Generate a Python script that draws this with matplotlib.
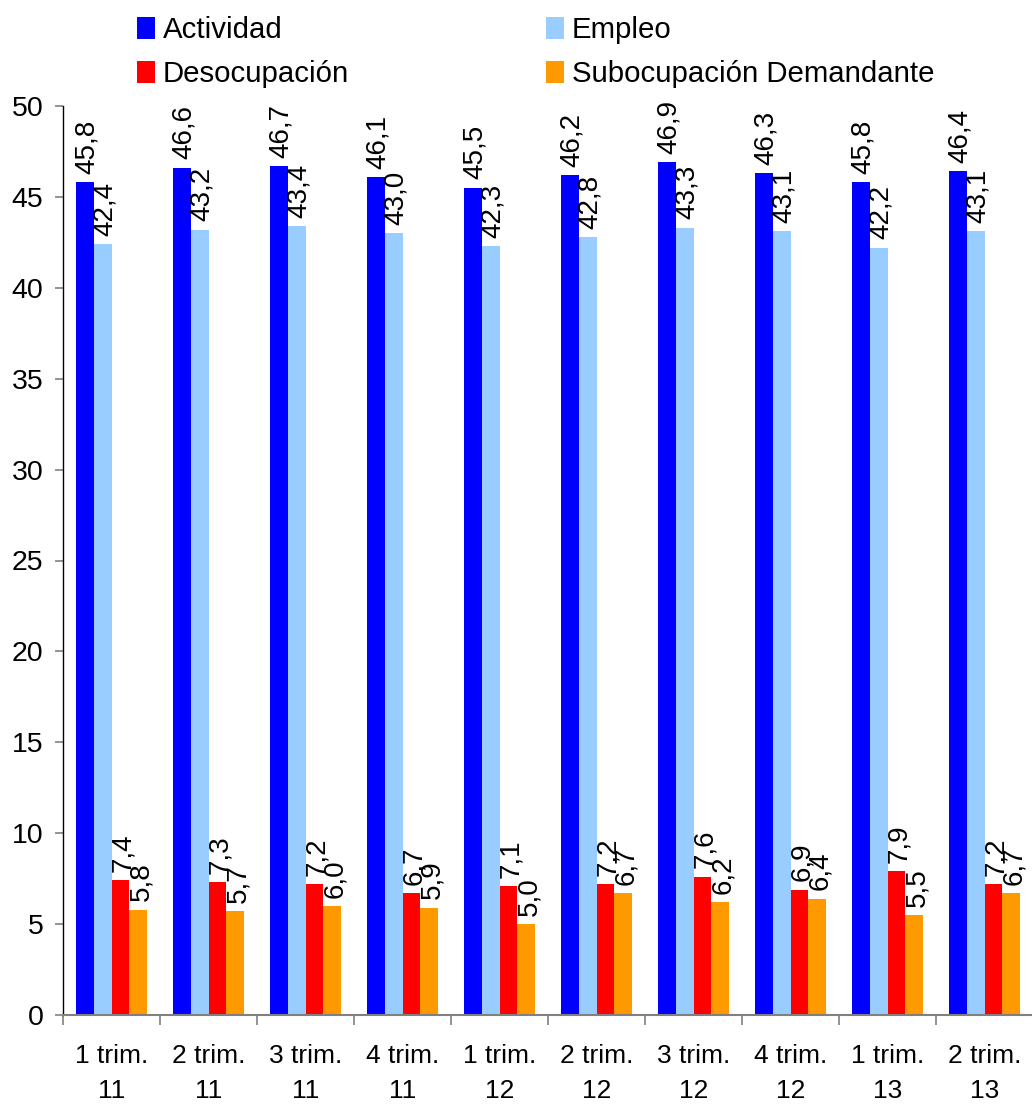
import matplotlib
matplotlib.use('Agg')
import matplotlib.pyplot as plt
import numpy as np
from matplotlib.patches import Patch

# tasas trimestrales (%)
periodos = ['1 trim.\n11', '2 trim.\n11', '3 trim.\n11', '4 trim.\n11',
            '1 trim.\n12', '2 trim.\n12', '3 trim.\n12', '4 trim.\n12',
            '1 trim.\n13', '2 trim.\n13']
actividad = [45.8, 46.6, 46.7, 46.1, 45.5, 46.2, 46.9, 46.3, 45.8, 46.4]
empleo = [42.4, 43.2, 43.4, 43.0, 42.3, 42.8, 43.3, 43.1, 42.2, 43.1]
desocupacion = [7.4, 7.3, 7.2, 6.7, 7.1, 7.2, 7.6, 6.9, 7.9, 7.2]
subocupacion = [5.8, 5.7, 6.0, 5.9, 5.0, 6.7, 6.2, 6.4, 5.5, 6.7]

nombres = ['Actividad', 'Empleo', 'Desocupación', 'Subocupación Demandante']
colores = ['#0000FF', '#99CCFF', '#FF0000', '#FF9900']
series = [actividad, empleo, desocupacion, subocupacion]

FUENTE = ['Liberation Sans', 'DejaVu Sans']

W, H = 1032, 1108
fig = plt.figure(figsize=(W / 100, H / 100), dpi=100)
ax = fig.add_axes([63 / W, 93 / H, 970 / W, 909 / H])

x = np.arange(len(periodos)) + 0.5
ancho = 0.185

for i, (vals, col) in enumerate(zip(series, colores)):
    pos = x + (i - 1.5) * ancho
    ax.bar(pos, vals, width=ancho, color=col, edgecolor='none', zorder=2)
    for px, v in zip(pos, vals):
        ax.annotate(f'{v:.1f}'.replace('.', ','), (px, v), xytext=(2, 6),
                    textcoords='offset points', rotation=90,
                    ha='center', va='bottom', fontsize=20, family=FUENTE,
                    annotation_clip=False, clip_on=False)

ax.set_xlim(0, len(periodos))
ax.set_ylim(0, 50)
ax.set_yticks(np.arange(0, 51, 5))

# ticks mayores en los limites de cada trimestre, etiquetas en los menores
ax.set_xticks(np.arange(0, len(periodos) + 1))
ax.set_xticklabels([])
ax.set_xticks(x, minor=True)
ax.set_xticklabels(periodos, minor=True, family=FUENTE, fontsize=19,
                   linespacing=1.55)
ax.tick_params(axis='x', which='major', direction='out', length=7,
               width=1.2, color='#808080')
ax.tick_params(axis='x', which='minor', length=0, pad=21)
ax.tick_params(axis='y', direction='out', length=6, width=1.2,
               color='#808080', pad=8)
for lab in ax.get_yticklabels():
    lab.set_family(FUENTE)
    lab.set_fontsize(20.5)

for s in ['top', 'right']:
    ax.spines[s].set_visible(False)
ax.spines['left'].set_color('black')
ax.spines['left'].set_linewidth(1.0)
ax.spines['bottom'].set_color('#808080')
ax.spines['bottom'].set_linewidth(1.5)

handles = [Patch(facecolor=c, edgecolor='none') for c in colores]
kw = dict(frameon=False, prop={'family': FUENTE, 'size': 21.2},
          handlelength=0.62, handleheight=0.75, handletextpad=0.25,
          labelspacing=0.55, borderpad=0, borderaxespad=0)
leg1 = fig.legend([handles[0], handles[2]], [nombres[0], nombres[2]],
                  loc='upper left', bbox_to_anchor=(137 / W, 1 - 16 / H), **kw)
leg2 = fig.legend([handles[1], handles[3]], [nombres[1], nombres[3]],
                  loc='upper left', bbox_to_anchor=(546 / W, 1 - 16 / H), **kw)

fig.savefig('out.png', dpi=100)
